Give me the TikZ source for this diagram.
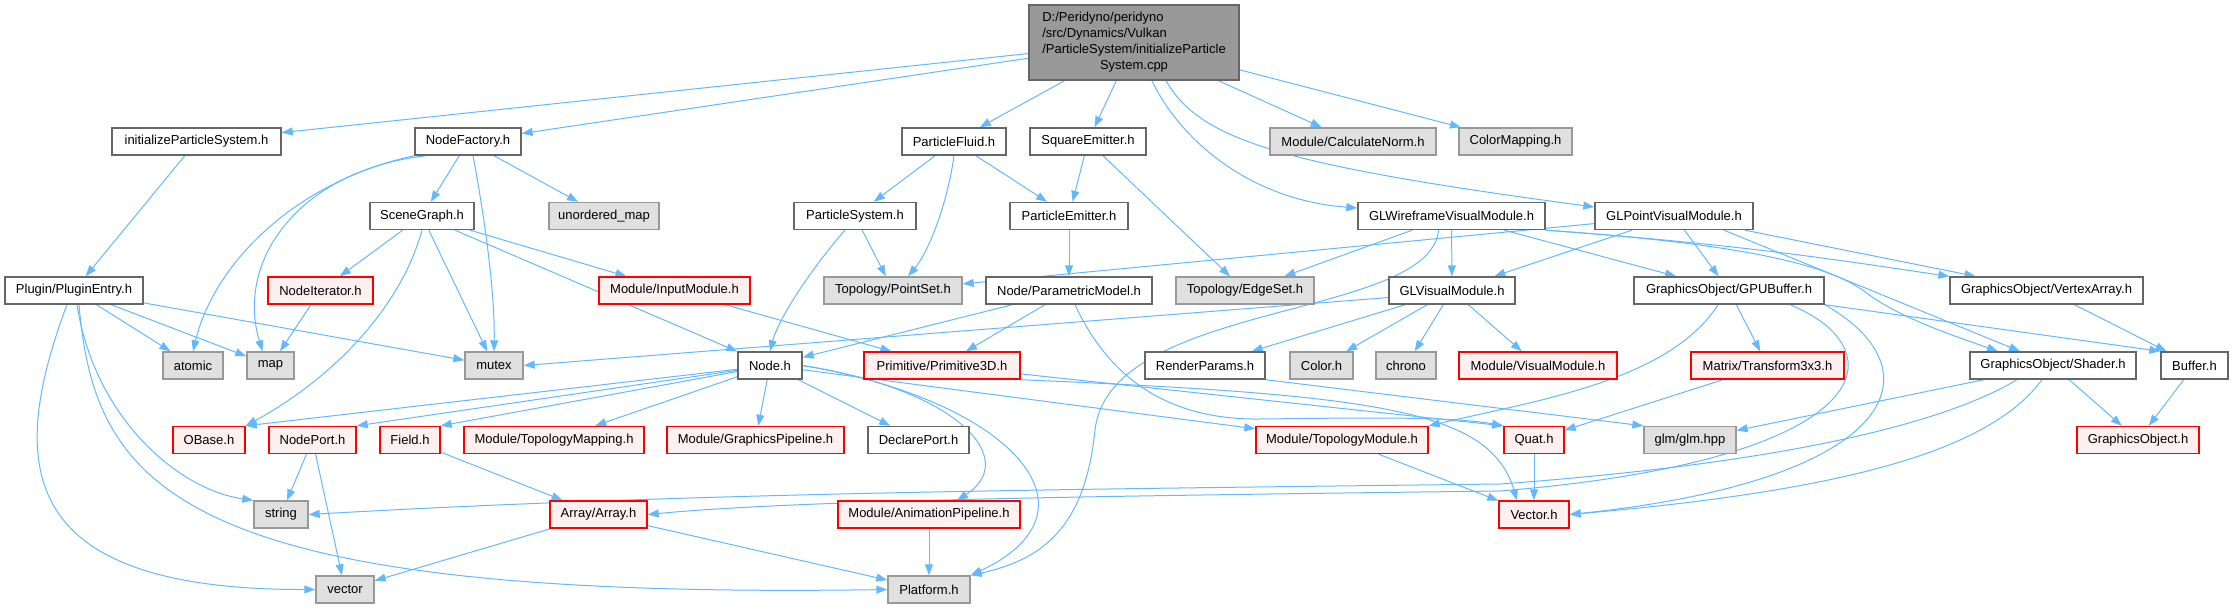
\documentclass[tikz,border=0pt]{standalone}
\usepackage{fontspec}
\setmainfont{Liberation Sans}
\usepackage{tikz}
\usetikzlibrary{arrows.meta, backgrounds, calc}
\usepackage{xcolor}
\definecolor{colEdge}{RGB}{99,184,255}
\definecolor{colBorder}{RGB}{102,102,102}
\definecolor{colMain}{RGB}{153,153,153}
\definecolor{colSys}{RGB}{224,224,224}
\definecolor{colSysBorder}{RGB}{153,153,153}
\definecolor{colMissing}{RGB}{255,240,240}
\definecolor{colMissingBorder}{RGB}{255,0,0}
\tikzset{
    file/.style={rectangle, line width=1.4pt, minimum height=27pt, inner sep=2pt,
        font=\fontsize{13}{16}\selectfont},
    hdr/.style={file, draw=colBorder, fill=white},
    sys/.style={file, draw=colSysBorder, fill=colSys},
    missing/.style={file, draw=colMissingBorder, fill=colMissing},
    mainfile/.style={file, draw=colBorder, fill=colMain},
    arrow/.style={-{Triangle[length=11pt, width=8pt]}, draw=colEdge, line width=1pt}
}

\begin{document}
\begin{tikzpicture}[x=1pt, y=-1pt]
    \useasboundingbox (0,0) rectangle (2233,608);

    \node[mainfile, minimum width=210pt, minimum height=75pt] (main) at (1134,42.5)
        {\begin{tabular}{@{}l@{}}D:/Peridyno/peridyno\\/src/Dynamics/Vulkan\\/ParticleSystem/initializeParticle\\\multicolumn{1}{@{}c@{}}{System.cpp}\end{tabular}};

    \node[hdr, minimum width=169pt] (initps) at (196.5,141.5) {initializeParticleSystem.h};
    \node[hdr, minimum width=106pt] (nfactory) at (468,141.5) {NodeFactory.h};
    \node[hdr, minimum width=104pt] (pfluid) at (954,141.5) {ParticleFluid.h};
    \node[hdr, minimum width=116pt] (sqemit) at (1088,141.5) {SquareEmitter.h};
    \node[sys, minimum width=166pt] (calcnorm) at (1353,141.5) {Module/CalculateNorm.h};
    \node[sys, minimum width=113pt] (colmap) at (1515.5,141.5) {ColorMapping.h};

    \node[hdr, minimum width=104pt] (sgraph) at (422,216) {SceneGraph.h};
    \node[sys, minimum width=110pt] (umap) at (604,216) {unordered\_map};
    \node[hdr, minimum width=122pt] (psystem) at (855,216) {ParticleSystem.h};
    \node[hdr, minimum width=118pt] (pemit) at (1069,216) {ParticleEmitter.h};
    \node[hdr, minimum width=187pt] (glwire) at (1451.5,216) {GLWireframeVisualModule.h};
    \node[hdr, minimum width=158pt] (glpoint) at (1674,216) {GLPointVisualModule.h};

    \node[hdr, minimum width=138pt] (plugin) at (74,290.5) {Plugin/PluginEntry.h};
    \node[missing, minimum width=105pt] (nodeit) at (320.5,290.5) {NodeIterator.h};
    \node[missing, minimum width=151pt] (inputmod) at (674.5,290.5) {Module/InputModule.h};
    \node[sys, minimum width=138pt] (pointset) at (893,290.5) {Topology/PointSet.h};
    \node[hdr, minimum width=166pt] (parmodel) at (1069,290.5) {Node/ParametricModel.h};
    \node[sys, minimum width=138pt] (edgeset) at (1245,290.5) {Topology/EdgeSet.h};
    \node[hdr, minimum width=126pt] (glvis) at (1452,290.5) {GLVisualModule.h};
    \node[hdr, minimum width=190pt] (gpubuf) at (1729,290.5) {GraphicsObject/GPUBuffer.h};
    \node[hdr, minimum width=193pt] (vertarr) at (2046.5,290.5) {GraphicsObject/VertexArray.h};

    \node[sys, minimum width=60pt] (stdatomic) at (193,365.5) {atomic};
    \node[sys, minimum width=47pt] (stdmap) at (270.5,365.5) {map};
    \node[sys, minimum width=58pt] (stdmutex) at (494,365.5) {mutex};
    \node[hdr, minimum width=64pt] (nodeh) at (770,365.5) {Node.h};
    \node[missing, minimum width=156pt] (prim3d) at (942,365.5) {Primitive/Primitive3D.h};
    \node[hdr, minimum width=120pt] (rparams) at (1205,365.5) {RenderParams.h};
    \node[sys, minimum width=63pt] (colorh) at (1321.5,365.5) {Color.h};
    \node[sys, minimum width=60pt] (stdchrono) at (1406,365.5) {chrono};
    \node[missing, minimum width=158pt] (vismod) at (1538,365.5) {Module/VisualModule.h};
    \node[missing, minimum width=153pt] (transf) at (1767.5,365.5) {Matrix/Transform3x3.h};
    \node[hdr, minimum width=166pt] (shader) at (2053,365.5) {GraphicsObject/Shader.h};
    \node[hdr, minimum width=67pt] (buffer) at (2194.5,365.5) {Buffer.h};

    \node[missing, minimum width=72pt] (obase) at (209,440) {OBase.h};
    \node[missing, minimum width=87pt] (nodeport) at (312.5,440) {NodePort.h};
    \node[missing, minimum width=60pt] (field) at (410,440) {Field.h};
    \node[missing, minimum width=180pt] (topomap) at (554,440) {Module/TopologyMapping.h};
    \node[missing, minimum width=177pt] (gfxpipe) at (755.5,440) {Module/GraphicsPipeline.h};
    \node[hdr, minimum width=101pt] (declport) at (918.5,440) {DeclarePort.h};
    \node[missing, minimum width=172pt] (topomod) at (1342,440) {Module/TopologyModule.h};
    \node[missing, minimum width=60pt] (quat) at (1534,440) {Quat.h};
    \node[sys, minimum width=92pt] (glm) at (1690,440) {glm/glm.hpp};
    \node[missing, minimum width=122pt] (gfxobj) at (2138,440) {GraphicsObject.h};

    \node[sys, minimum width=54pt] (stdstring) at (281,514.5) {string};
    \node[missing, minimum width=97pt] (array) at (598.5,514.5) {Array/Array.h};
    \node[missing, minimum width=182pt] (animpipe) at (929,514.5) {Module/AnimationPipeline.h};
    \node[missing, minimum width=70pt] (vectorh) at (1534,514.5) {Vector.h};

    \node[sys, minimum width=58pt] (stdvector) at (345,589.5) {vector};
    \node[sys, minimum width=82pt] (platform) at (929,589.5) {Platform.h};

    \begin{scope}[on background layer]
    \draw[arrow] (main) -- (initps);
    \draw[arrow] (main) -- (nfactory);
    \draw[arrow] (main) -- (pfluid);
    \draw[arrow] (main) -- (sqemit);
    \draw[arrow] (main) -- (calcnorm);
    \draw[arrow] (main) -- (colmap);
    \draw[arrow] ($(main.south)+(18,0)$) .. controls (1180,140) and (1250,200) .. ($(glwire.west)+(0,-8)$);
    \draw[arrow] ($(main.south)+(32,0)$) .. controls (1200,140) and (1280,165) .. ($(glpoint.west)+(0,-9)$);
    \draw[arrow] (initps) -- (plugin);

    \draw[arrow] (nfactory.south west) .. controls (300,180) and (215,260) .. (stdatomic.north);
    \draw[arrow] ($(nfactory.south west)+(12,0)$) .. controls (300,170) and (235,260) .. ($(stdmap.north)+(-8,0)$);
    \draw[arrow] (nfactory) -- (sgraph);
    \draw[arrow] ($(nfactory.south)+(5,0)$) .. controls (487,230) and (495,300) .. (stdmutex.north);
    \draw[arrow] (nfactory) -- (umap);

    \draw[arrow] (sgraph) -- (nodeit);
    \draw[arrow] (sgraph.south) .. controls (400,310) and (330,380) .. (obase.north east);
    \draw[arrow] (sgraph) -- (stdmutex);
    \draw[arrow] (sgraph) -- (nodeh);
    \draw[arrow] (sgraph) -- (inputmod);
    \draw[arrow] (nodeit) -- (stdmap);
    \draw[arrow] (inputmod) -- (prim3d);

    \draw[arrow] (plugin) -- (stdatomic);
    \draw[arrow] (plugin) -- (stdmap);
    \draw[arrow] (plugin) -- (stdmutex);
    \draw[arrow] ($(plugin.south)+(3,0)$) .. controls (95,420) and (180,490) .. (stdstring.north west);
    \draw[arrow] ($(plugin.south)+(-7,0)$) .. controls (5,470) and (20,590) .. (stdvector.west);
    \draw[arrow] ($(plugin.south)+(5,0)$) .. controls (95,490) and (180,600) .. (platform.west);

    \draw[arrow] (pfluid) -- (psystem);
    \draw[arrow] (pfluid.south) .. controls (948,200) and (930,250) .. ($(pointset.north)+(15,0)$);
    \draw[arrow] (pfluid) -- (pemit);
    \draw[arrow] (sqemit) -- (pemit);
    \draw[arrow] (sqemit) -- (edgeset);
    \draw[arrow] (psystem) -- (pointset);
    \draw[arrow] ($(psystem.south)+(-10,0)$) .. controls (810,270) and (778,320) .. (nodeh.north);
    \draw[arrow] (pemit) -- (parmodel);
    \draw[arrow] (parmodel) -- (nodeh);
    \draw[arrow] (parmodel) -- (prim3d);
    \draw[arrow] ($(parmodel.south)+(6,0)$) .. controls (1110,380) and (1170,420) .. (1260,419) .. controls (1350,418) and (1450,416) .. (quat.north west);

    \draw[arrow] (glwire) -- (edgeset);
    \draw[arrow] ($(glwire.south)+(-13,0)$) .. controls (1430,320) and (1110,300) .. (1095,430) .. controls (1085,530) and (1040,560) .. (platform.north east);
    \draw[arrow] (glwire) -- (glvis);
    \draw[arrow] (glwire) -- (gpubuf);
    \draw[arrow] (glwire.south east) .. controls (1750,245) and (1850,262) .. (vertarr.north west);
    \draw[arrow] (glwire.south east) .. controls (1760,245) and (1835,268) .. (1868,294) .. controls (1900,318) and (1960,338) .. ($(shader.north)+(-55,0)$);

    \draw[arrow] (glpoint) -- (pointset);
    \draw[arrow] (glpoint) -- (glvis);
    \draw[arrow] (glpoint) -- (gpubuf);
    \draw[arrow] (glpoint) -- (vertarr);
    \draw[arrow] ($(glpoint.south)+(50,0)$) -- ($(shader.north)+(-33,0)$);

    \draw[arrow] ($(glvis.west)+(0,7)$) -- (stdmutex.east);
    \draw[arrow] (glvis) -- (rparams);
    \draw[arrow] (glvis) -- (colorh);
    \draw[arrow] (glvis) -- (stdchrono);
    \draw[arrow] (glvis) -- (vismod);

    \draw[arrow] ($(gpubuf.south)+(-11,0)$) .. controls (1670,380) and (1540,400) .. (topomod.north east);
    \draw[arrow] (gpubuf) -- (transf);
    \draw[arrow] ($(gpubuf.south)+(61,0)$) .. controls (1900,350) and (1880,460) .. (1500,491) .. controls (1100,496) and (800,500) .. (array.east);
    \draw[arrow] (gpubuf.south east) .. controls (1940,370) and (1900,480) .. (vectorh.east);
    \draw[arrow] (gpubuf.south east) -- (buffer.north west);

    \draw[arrow] (shader) -- (glm);
    \draw[arrow] ($(shader.south)+(-36,0)$) .. controls (1950,420) and (1800,462) .. (1500,484) .. controls (1100,489) and (700,492) .. (stdstring.east);
    \draw[arrow] ($(shader.south)+(-11,0)$) .. controls (1990,450) and (1850,490) .. (vectorh.east);
    \draw[arrow] (shader) -- (gfxobj);
    \draw[arrow] (vertarr) -- (buffer);
    \draw[arrow] (buffer) -- (gfxobj);
    \draw[arrow] (transf) -- (quat);
    \draw[arrow] (rparams.south east) -- (glm.north west);

    \draw[arrow] (nodeh) -- (obase.north east);
    \draw[arrow] (nodeh) -- (nodeport.north east);
    \draw[arrow] (nodeh) -- (field.north east);
    \draw[arrow] (nodeh) -- (topomap);
    \draw[arrow] (nodeh) -- (gfxpipe);
    \draw[arrow] (nodeh) -- (declport);
    \draw[arrow] (nodeh) -- (topomod);
    \draw[arrow] (nodeh.east) .. controls (960,390) and (1020,460) .. ($(animpipe.north)+(28,0)$);
    \draw[arrow] (nodeh.east) .. controls (1010,400) and (1110,510) .. (platform.north east);

    \draw[arrow] (prim3d) -- (quat.north west);
    \draw[arrow] (prim3d.south east) .. controls (1380,395) and (1490,410) .. ($(vectorh.north)+(-17,0)$);
    \draw[arrow] (topomod) -- (vectorh);
    \draw[arrow] (quat) -- (vectorh);
    \draw[arrow] (field) -- (array);
    \draw[arrow] (nodeport) -- (stdstring);
    \draw[arrow] (nodeport) -- (stdvector);
    \draw[arrow] (array) -- (stdvector);
    \draw[arrow] (array) -- (platform);
    \draw[arrow] (animpipe) -- (platform);
    \end{scope}

\end{tikzpicture}
\end{document}
